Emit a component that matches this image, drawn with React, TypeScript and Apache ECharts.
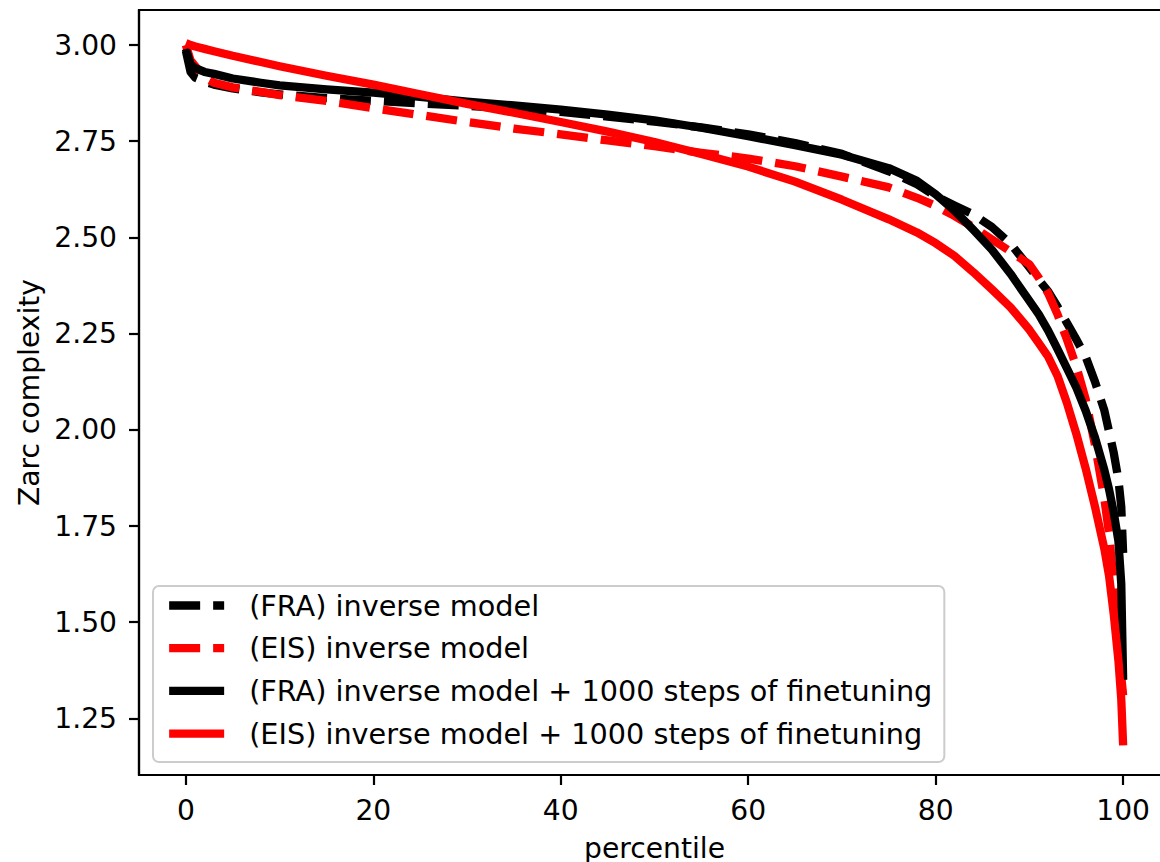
import React, { useEffect, useRef } from "react";
import * as echarts from "echarts";

const percentiles = [0, 0.5, 1, 2, 3, 5, 8, 10, 15, 20, 25, 30, 35, 40, 45, 50, 55, 60, 65, 70, 75, 78, 80, 82, 84, 86, 88, 90, 91, 92, 93, 94, 95, 96, 97, 98, 98.5, 99, 99.5, 99.8, 100];

const fraInverse = [2.985, 2.93, 2.915, 2.905, 2.897, 2.887, 2.877, 2.872, 2.862, 2.855, 2.848, 2.842, 2.834, 2.826, 2.814, 2.801, 2.786, 2.768, 2.745, 2.717, 2.672, 2.638, 2.607, 2.583, 2.56, 2.527, 2.483, 2.422, 2.39, 2.36, 2.32, 2.278, 2.235, 2.19, 2.125, 2.05, 1.995, 1.94, 1.87, 1.8, 1.68];

const eisInverse = [3.0, 2.96, 2.945, 2.915, 2.902, 2.89, 2.878, 2.87, 2.855, 2.836, 2.818, 2.8, 2.783, 2.768, 2.752, 2.737, 2.72, 2.705, 2.685, 2.658, 2.63, 2.603, 2.582, 2.556, 2.527, 2.495, 2.463, 2.43, 2.395, 2.355, 2.3, 2.235, 2.165, 2.08, 1.96, 1.82, 1.73, 1.6, 1.44, 1.36, 1.31];

const fraFinetune = [2.99, 2.95, 2.94, 2.93, 2.925, 2.913, 2.902, 2.895, 2.885, 2.876, 2.865, 2.853, 2.843, 2.832, 2.819, 2.804, 2.785, 2.763, 2.74, 2.715, 2.68, 2.647, 2.612, 2.57, 2.52, 2.468, 2.405, 2.335, 2.3, 2.258, 2.21, 2.16, 2.11, 2.05, 1.98, 1.895, 1.845, 1.785, 1.71, 1.6, 1.35];

const eisFinetune = [3.005, 3.0, 2.996, 2.99, 2.984, 2.972, 2.956, 2.945, 2.92, 2.897, 2.872, 2.847, 2.824, 2.8, 2.775, 2.748, 2.717, 2.684, 2.645, 2.598, 2.547, 2.513, 2.485, 2.452, 2.41, 2.365, 2.318, 2.26, 2.225, 2.19, 2.14, 2.07, 1.99, 1.9, 1.8, 1.69, 1.62, 1.52, 1.4, 1.3, 1.18];

const seriesNames = [
  "(FRA) inverse model",
  "(EIS) inverse model",
  "(FRA) inverse model + 1000 steps of finetuning",
  "(EIS) inverse model + 1000 steps of finetuning",
];

const xTicks = [0, 20, 40, 60, 80, 100];
const yTicks = [1.25, 1.5, 1.75, 2.0, 2.25, 2.5, 2.75, 3.0];

const FONT = "DejaVu Sans";
const FS = 28.2;
const LFS = 28.7;
const LW = 8.3;
const DASH = [31, 13];

function pairs(ys: number[]) {
  return percentiles.map((p, i) => [p, ys[i]]);
}

export default function App() {
  const ref = useRef<HTMLDivElement>(null);
  useEffect(() => {
    if (!ref.current) return;
    const chart = echarts.init(ref.current, undefined, { renderer: "svg" });
    const mk = (name: string, ys: number[], color: string, dashed: boolean) => ({
      name,
      type: "line",
      data: pairs(ys),
      symbol: "none",
      smooth: false,
      clip: true,
      lineStyle: {
        color,
        width: LW,
        type: dashed ? DASH : "solid",
        cap: "butt",
        join: "round",
      },
      itemStyle: { color },
      emphasis: { disabled: true },
    });
    chart.setOption({
      animation: false,
      backgroundColor: "#ffffff",
      grid: {
        left: 139,
        top: 10,
        right: -10,
        bottom: 87,
        show: true,
        borderColor: "#000000",
        borderWidth: 2.2,
        backgroundColor: "transparent",
        containLabel: false,
        outerBoundsMode: "none",
      },
      xAxis: {
        type: "value",
        min: -5,
        max: 105,
        name: "percentile",
        nameLocation: "middle",
        nameGap: 59,
        nameTextStyle: { fontFamily: FONT, fontSize: FS, color: "#000" },
        axisLine: { show: true, onZero: false, lineStyle: { color: "#000", width: 2.2 } },
        axisTick: { show: true, length: 10, lineStyle: { color: "#000", width: 2.2 }, customValues: xTicks },
        axisLabel: {
          fontFamily: FONT,
          fontSize: FS,
          color: "#000",
          margin: 21,
          customValues: xTicks,
          formatter: (v: number) => String(v),
        },
        splitLine: { show: false },
      },
      yAxis: {
        type: "value",
        min: 1.103,
        max: 3.091,
        name: "Zarc complexity",
        nameLocation: "middle",
        nameRotate: 90,
        nameGap: 95,
        nameTextStyle: { fontFamily: FONT, fontSize: FS, color: "#000" },
        axisLine: { show: true, onZero: false, lineStyle: { color: "#000", width: 2.2 } },
        axisTick: { show: true, length: 10, lineStyle: { color: "#000", width: 2.2 }, customValues: yTicks },
        axisLabel: {
          fontFamily: FONT,
          fontSize: FS,
          color: "#000",
          margin: 22,
          customValues: yTicks,
          formatter: (v: number) => v.toFixed(2),
        },
        splitLine: { show: false },
      },
      legend: {
        show: true,
        orient: "vertical",
        left: 153,
        top: 586,
        itemWidth: 55,
        itemHeight: 30,
        itemGap: 13.7,
        padding: [5, 12, 14, 12],
        backgroundColor: "rgba(255,255,255,0.8)",
        borderColor: "#cccccc",
        borderWidth: 2,
        borderRadius: 6,
        selectedMode: false,
        itemStyle: { opacity: 0 },
        lineStyle: { width: LW },
        textStyle: {
          fontFamily: FONT,
          fontSize: LFS,
          color: "#000",
          padding: [0, 0, 0, 20],
        },
        data: seriesNames,
      },
      series: [
        mk(seriesNames[0], fraInverse, "#000000", true),
        mk(seriesNames[1], eisInverse, "#ff0000", true),
        mk(seriesNames[2], fraFinetune, "#000000", false),
        mk(seriesNames[3], eisFinetune, "#ff0000", false),
      ],
    });
    return () => chart.dispose();
  }, []);
  return (
    <div
      ref={ref}
      style={{ position: "fixed", left: 0, top: 0, width: 1160, height: 862, background: "#fff" }}
    />
  );
}
